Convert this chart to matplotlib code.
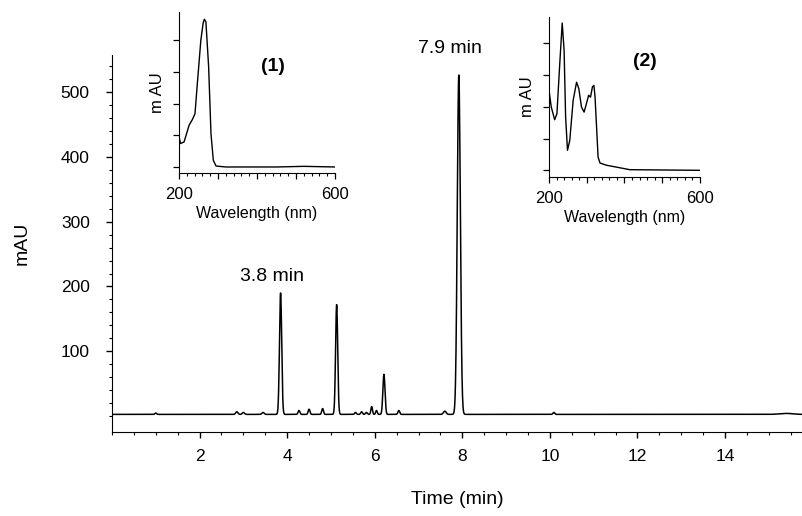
import numpy as np
import matplotlib
matplotlib.use("Agg")
from matplotlib import pyplot as plt
from matplotlib.ticker import MultipleLocator, FixedLocator

plt.rcParams["font.family"] = ["Liberation Sans", "DejaVu Sans"]

# chromatogram peak table (retention time in min, height in mAU, sigma in min)
peak_times = [1.00, 2.85, 3.00, 3.45, 3.85, 4.27, 4.50, 4.81, 5.13, 5.56, 5.70,
              5.81, 5.93, 6.04, 6.21, 6.55, 7.60, 7.92, 10.09, 15.40]
peak_heights = [2, 4, 3, 3, 188, 6, 8, 9, 170, 3, 4, 3, 12, 6, 62, 6, 5, 524, 3, 1.5]
peak_sigmas = [0.02, 0.025, 0.025, 0.025, 0.025, 0.02, 0.02, 0.02, 0.024, 0.02, 0.02,
               0.02, 0.018, 0.018, 0.024, 0.02, 0.03, 0.035, 0.02, 0.15]
baseline_level = 2.5

# UV spectra (wavelength nm, absorbance in tick units)
spec1_nm = [200, 204, 213, 226, 234, 241, 247, 256, 262, 265, 269, 276, 282,
            288, 295, 320, 450, 520, 600]
spec1_abs = [0.95, 0.74, 0.79, 1.32, 1.49, 1.68, 2.63, 4.00, 4.55, 4.66, 4.58,
             3.16, 1.05, 0.21, 0.03, 0.0, 0.0, 0.02, 0.0]
spec2_nm = [200, 206, 215, 221, 228, 235, 240, 244, 249, 255, 264, 273, 279,
            286, 293, 299, 305, 310, 315, 319, 322, 326, 330, 335, 352, 379, 414, 600]
spec2_abs = [2.51, 1.99, 1.59, 1.78, 3.25, 4.63, 3.77, 1.68, 0.63, 0.94, 2.20,
             2.77, 2.57, 1.99, 1.83, 2.09, 2.36, 2.30, 2.62, 2.67, 2.30, 1.36,
             0.42, 0.23, 0.16, 0.10, 0.02, 0.0]

fig_w, fig_h = 803, 516
fig = plt.figure(figsize=(fig_w / 100, fig_h / 100), dpi=100)


def px_rect(left, top, right, bottom):
    return [left / fig_w, 1 - bottom / fig_h, (right - left) / fig_w, (bottom - top) / fig_h]


""" main chromatogram """
ax = fig.add_axes(px_rect(112, 55, 803, 432))
t = np.arange(0, 15.8, 0.004)
signal = np.full_like(t, baseline_level)
for pt, ph, ps in zip(peak_times, peak_heights, peak_sigmas):
    signal += ph * np.exp(-0.5 * ((t - pt) / ps) ** 2)
ax.plot(t, signal, color="black", lw=1.1)

ax.set_xlim(0, 15.78)
ax.set_ylim(-24.7, 557.5)
ax.spines["top"].set_visible(False)
ax.spines["right"].set_visible(False)
ax.set_xticks([2, 4, 6, 8, 10, 12, 14])
ax.xaxis.set_minor_locator(MultipleLocator(0.5))
ax.set_yticks([100, 200, 300, 400, 500])
ax.yaxis.set_minor_locator(FixedLocator(np.arange(0, 560, 20)))
ax.tick_params(which="major", length=4, width=1, labelsize=12.5, direction="out")
ax.tick_params(which="minor", length=2.5, width=0.8, direction="out")
ax.tick_params(axis="x", pad=8)
ax.tick_params(axis="y", pad=12)
ax.set_xlabel("Time (min)", fontsize=14, labelpad=20)
ax.set_ylabel("mAU", fontsize=14, labelpad=22)

ax.text(3.65, 216, "3.8 min", fontsize=14, ha="center", va="center")
ax.text(7.72, 567, "7.9 min", fontsize=14, ha="center", va="center", clip_on=False)


""" UV spectra insets """
def draw_inset(rect, nm, absorb, ylim, tag, tag_xy):
    iax = fig.add_axes(rect)
    iax.plot(nm, absorb, color="black", lw=1.0)
    iax.set_xlim(200, 600)
    iax.set_ylim(*ylim)
    iax.spines["top"].set_visible(False)
    iax.spines["right"].set_visible(False)
    iax.set_xticks([200, 300, 400, 500, 600])
    iax.set_xticklabels(["200", "", "", "", "600"])
    iax.xaxis.set_minor_locator(MultipleLocator(20))
    iax.set_yticks([0, 1, 2, 3, 4])
    iax.set_yticklabels([])
    iax.tick_params(which="major", length=4, width=0.9, labelsize=12, pad=6)
    iax.tick_params(which="minor", length=2.5, width=0.8)
    iax.set_xlabel("Wavelength (nm)", fontsize=11.5, labelpad=3)
    iax.set_ylabel("m AU", fontsize=12, labelpad=0)
    iax.text(tag_xy[0], tag_xy[1], tag, fontsize=14, fontweight="bold",
             ha="center", va="center", transform=iax.transAxes)
    return iax


draw_inset(px_rect(179, 12, 335, 173), spec1_nm, spec1_abs, (-0.19, 4.89),
           "(1)", ((273 - 179) / 156, (173 - 67) / 161))
draw_inset(px_rect(549, 17, 700, 177), spec2_nm, spec2_abs, (-0.21, 4.82),
           "(2)", ((645 - 549) / 151, (177 - 62) / 160))

fig.savefig("out.png", dpi=100)
